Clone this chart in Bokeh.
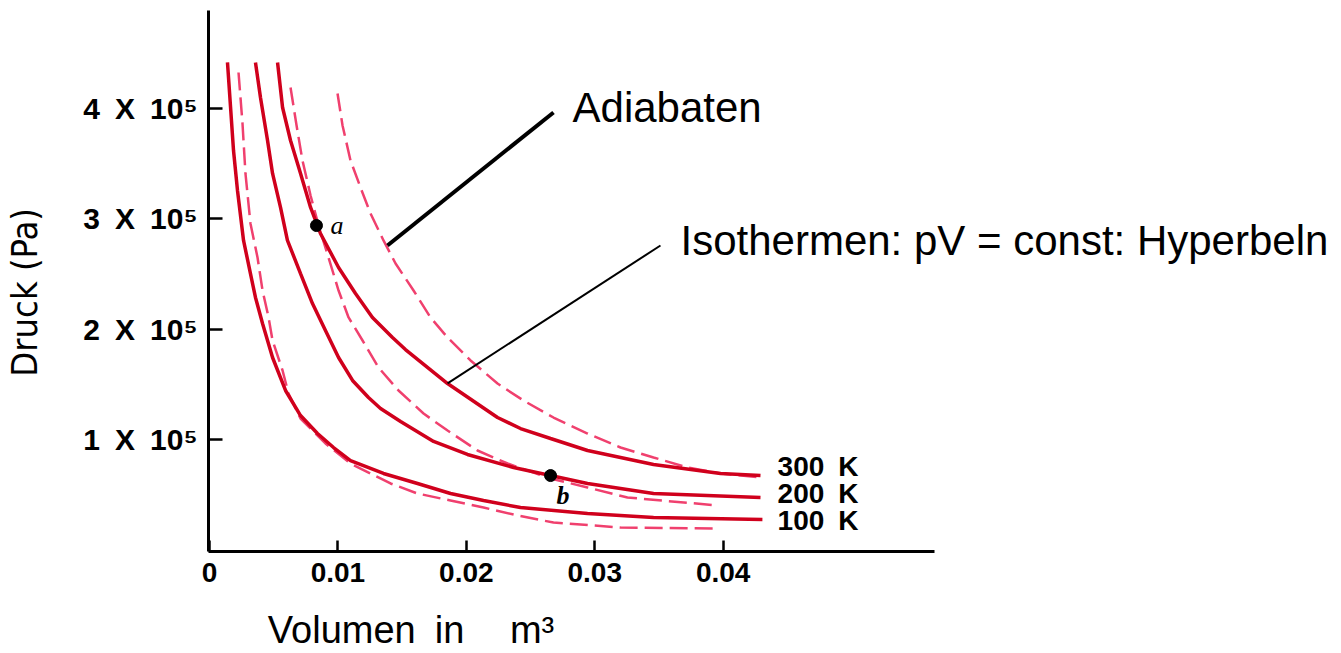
import math
from bokeh.plotting import figure
from bokeh.models import Range1d, FixedTicker, Label, LinearAxis
from bokeh.embed import file_html
from bokeh.resources import INLINE

# ---------------- data (volume in m^3, pressure in Pa) ----------------
# Isotherms (solid)
V_100K = [0.00140, 0.00164, 0.00187, 0.00218, 0.00265, 0.00319, 0.00358, 0.00413, 0.00491, 0.00592,
          0.00709, 0.00841, 0.00966, 0.01098, 0.01355, 0.01620, 0.01877, 0.02134, 0.02422, 0.02944,
          0.03458, 0.04306]
p_100K = [441700, 400900, 361900, 325700, 280400, 250400, 228700, 205100, 174300, 144400,
          121700, 105400, 92700, 80900, 69200, 60100, 51000, 44700, 38300, 32900,
          29300, 27500]

V_200K = [0.00358, 0.00397, 0.00452, 0.00491, 0.00553, 0.00607, 0.00709, 0.00802, 0.00903, 0.01005,
          0.01114, 0.01238, 0.01332, 0.01488, 0.01745, 0.02009, 0.02368, 0.02656, 0.02944, 0.03458,
          0.04291]
p_200K = [441700, 410000, 371000, 341100, 310300, 280400, 250400, 223200, 198800, 174300,
          153500, 138000, 128100, 116300, 98200, 86400, 74600, 67300, 60100, 51000,
          47400]

V_300K = [0.00530, 0.00569, 0.00631, 0.00709, 0.00787, 0.00864, 0.01005, 0.01137, 0.01269, 0.01425,
          0.01526, 0.01854, 0.02243, 0.02422, 0.02656, 0.02944, 0.03458, 0.03980, 0.04291]
p_300K = [441700, 400900, 371000, 341100, 310300, 286700, 255900, 232300, 210600, 192400,
          181500, 150700, 119900, 109900, 100900, 90000, 77300, 69200, 67300]

# Adiabats (dashed)
V_ad1 = [0.00226, 0.00257, 0.00280, 0.00319, 0.00374, 0.00413, 0.00460, 0.00491, 0.00569, 0.00615,
         0.00709, 0.00903, 0.01098, 0.01410, 0.01620, 0.01877, 0.02134, 0.02399, 0.02679, 0.03201,
         0.03956]
p_ad1 = [432600, 386400, 341100, 295800, 264900, 235000, 210600, 189700, 162500, 141700,
         119000, 96400, 78200, 60100, 51000, 44700, 38300, 31100, 24700, 20200,
         19300]

V_ad2 = [0.00631, 0.00678, 0.00724, 0.00787, 0.00849, 0.00927, 0.01005, 0.01083, 0.01192, 0.01316,
         0.01472, 0.01667, 0.01854, 0.02087, 0.02321, 0.02656, 0.02944, 0.03255, 0.03956]
p_ad2 = [419000, 384600, 352900, 321100, 294000, 264900, 235000, 210600, 189700, 165200,
         144400, 123500, 108100, 90000, 78200, 64600, 56500, 47400, 40200]

V_ad3 = [0.00997, 0.01036, 0.01098, 0.01176, 0.01254, 0.01355, 0.01449, 0.01589, 0.01721, 0.01854,
         0.02033, 0.02243, 0.02445, 0.02679, 0.02944, 0.03201, 0.03458, 0.03723, 0.03980, 0.04291]
p_ad3 = [413600, 384600, 352900, 328400, 304800, 280400, 259500, 235000, 210600, 192400,
         171600, 150700, 135300, 119900, 105400, 92700, 83700, 74600, 69200, 65500]

# states a and b
state_names = ["a", "b"]
state_V = [0.00833, 0.02656]
state_p = [293900, 67300]

# temperature labels
temp_labels = ["300\u2002K", "200\u2002K", "100\u2002K"]
temp_label_p = [75500, 51000, 26600]

# ticks
x_ticks = [0, 0.01, 0.02, 0.03, 0.04]
x_tick_labels = ["0", "0.01", "0.02", "0.03", "0.04"]
y_ticks = [100000, 200000, 300000, 400000]
y_tick_labels = ["1\u2002X\u200210\u2075", "2\u2002X\u200210\u2075",
                 "3\u2002X\u200210\u2075", "4\u2002X\u200210\u2075"]

# axis titles (trailing spaces shift the centred title to where the original places it)
x_title = "Volumen\u2002in\u2002\u2002\u2009m\u00b3" + "\u2003" * 19
y_title = "Druck (Pa)" + "\u2002\u2009"

# ---------------- figure ----------------
X0, X1 = -0.000078, 0.08769
Y0, Y1 = -1540, 488800

p = figure(width=1335, height=653, output_backend="svg", toolbar_location=None,
           x_range=Range1d(X0, X1), y_range=Range1d(Y0, Y1),
           min_border_left=208, min_border_right=0, min_border_top=10, min_border_bottom=102)
p.outline_line_color = None
p.xgrid.visible = False
p.ygrid.visible = False
p.background_fill_color = "white"
p.border_fill_color = "white"

SOLID = "#D0001C"
DASH = "#F0406E"

for V, P in [(V_ad1, p_ad1), (V_ad2, p_ad2), (V_ad3, p_ad3)]:
    p.line(V, P, line_color=DASH, line_width=2.5, line_dash="18 7")
for V, P in [(V_100K, p_100K), (V_200K, p_200K), (V_300K, p_300K)]:
    p.line(V, P, line_color=SOLID, line_width=3.5)

p.scatter(state_V, state_p, size=12, color="black")

# axes
AX_FONT = "Liberation Sans"
p.xaxis.bounds = (X0, 0.0565)
p.xaxis.ticker = FixedTicker(ticks=x_ticks)
p.xaxis.major_label_overrides = {t: s for t, s in zip(x_ticks, x_tick_labels)}
p.yaxis.ticker = FixedTicker(ticks=y_ticks)
p.yaxis.major_label_overrides = {t: s for t, s in zip(y_ticks, y_tick_labels)}
for ax in (p.xaxis[0], p.yaxis[0]):
    ax.axis_line_width = 3
    ax.axis_line_color = "black"
    ax.major_tick_out = 0
    ax.major_tick_line_width = 2.5
    ax.major_tick_line_color = "black"
    ax.minor_tick_line_color = None
    ax.major_label_text_font = AX_FONT
    ax.major_label_text_font_style = "bold"
    ax.major_label_text_color = "black"
p.xaxis.major_label_text_font_size = "28px"
p.yaxis.major_label_text_font_size = "30px"
p.xaxis.major_tick_in = 11
p.xaxis.major_label_standoff = 11
p.yaxis.major_tick_in = 14
p.yaxis.major_label_standoff = 11

# title-only axes stacked outside the main axes
ylab = LinearAxis(ticker=FixedTicker(ticks=[]), axis_label=y_title,
                  axis_line_color=None, major_tick_line_color=None, minor_tick_line_color=None,
                  major_tick_out=0, major_tick_in=0, major_label_standoff=0,
                  axis_label_standoff=36,
                  axis_label_text_font="'Liberation Sans Narrow', 'DejaVu Sans Condensed', sans-serif",
                  axis_label_text_font_size="36px", axis_label_text_font_style="normal",
                  axis_label_text_color="black")
p.add_layout(ylab, "left")
xlab = LinearAxis(ticker=FixedTicker(ticks=[]), axis_label=x_title,
                  axis_line_color=None, major_tick_line_color=None, minor_tick_line_color=None,
                  major_tick_out=0, major_tick_in=0, major_label_standoff=0,
                  axis_label_standoff=24,
                  axis_label_text_font=AX_FONT, axis_label_text_font_size="38px",
                  axis_label_text_font_style="normal", axis_label_text_color="black")
p.add_layout(xlab, "below")

# temperature labels
for t, yv in zip(temp_labels, temp_label_p):
    p.add_layout(Label(x=0.04424, y=yv, text=t, text_align="left", text_baseline="middle",
                       text_font=AX_FONT, text_font_style="bold", text_font_size="28px",
                       text_color="black"))

# state labels
p.add_layout(Label(x=0.00942, y=293900, text=state_names[0], text_font="Liberation Serif",
                   text_font_style="italic", text_font_size="26px", text_baseline="middle",
                   text_color="black"))
p.add_layout(Label(x=0.02702, y=49200, text=state_names[1], text_font="Liberation Serif",
                   text_font_style="bold italic", text_font_size="26px", text_baseline="middle",
                   text_color="black"))

# annotations with pointers
p.segment(x0=[0.02679], y0=[396400], x1=[0.01386], y1=[275800], line_color="black", line_width=4)
p.segment(x0=[0.03512], y0=[275800], x1=[0.01854], y1=[150900], line_color="black", line_width=2)
p.add_layout(Label(x=0.02827, y=400900, text="Adiabaten", text_align="left",
                   text_baseline="middle", text_font=AX_FONT, text_font_size="42px",
                   text_color="black"))
p.add_layout(Label(x=0.03668, y=280500, text="Isothermen: pV = const: Hyperbeln", text_align="left",
                   text_baseline="middle", text_font=AX_FONT, text_font_size="42px",
                   text_color="black"))

open("out.html", "w").write(file_html(p, INLINE))
